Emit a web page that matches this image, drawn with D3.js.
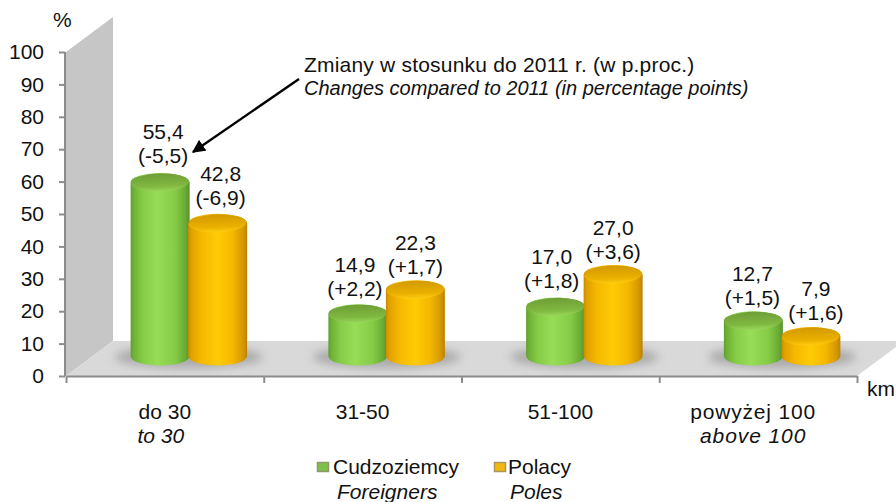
<!DOCTYPE html>
<html><head><meta charset="utf-8">
<script src="https://cdn.jsdelivr.net/npm/d3@7"></script>
<style>html,body{margin:0;padding:0;background:#fff}svg{display:block}text{font-family:"Liberation Sans",Arial,sans-serif;fill:#111}</style>
</head><body><div id="c"></div>
<script>
const categoriesPl = ["do 30","31-50","51-100","powyżej 100"];
const categoriesEn = ["to 30","","","above 100"];
const seriesNames = ["Cudzoziemcy","Polacy"];
const seriesNamesEn = ["Foreigners","Poles"];
const foreigners = [55.4,14.9,17.0,12.7];
const poles = [42.8,22.3,27.0,7.9];
const foreignersChange = ["(-5,5)","(+2,2)","(+1,8)","(+1,5)"];
const polesChange = ["(-6,9)","(+1,7)","(+3,6)","(+1,6)"];
const yTicks = [0,10,20,30,40,50,60,70,80,90,100];

const W=896,H=502;
const x0=66,x1=857,yB=376,yT=52,dx=47,dy=35;
const svg=d3.select("#c").append("svg").attr("width",W).attr("height",H);
const y=d3.scaleLinear().domain([0,100]).range([yB,yT]);
const x=d3.scaleBand().domain(categoriesPl).range([x0,x1]);
const xEdge=d3.scaleLinear().domain([0,4]).range([x0,x1]);
const inner=d3.scaleBand().domain([0,1]).range([-57.5,57.5]);
const FS=21;
const defs=svg.append("defs");
function grad(id,stops){const g=defs.append("linearGradient").attr("id",id);
 stops.forEach(s=>g.append("stop").attr("offset",s[0]).attr("stop-color",s[1]));}
grad("gG",[[0,"#5f9e2e"],[.05,"#6fb036"],[.2,"#86cc46"],[.45,"#98dc58"],[.75,"#86cc46"],[.93,"#69aa34"],[1,"#55902a"]]);
grad("gO",[[0,"#c98a00"],[.05,"#e0a000"],[.22,"#f5b800"],[.5,"#ffcb05"],[.75,"#f4b800"],[.93,"#d69800"],[1,"#bd8200"]]);
const tg=defs.append("linearGradient").attr("id","tG").attr("x1",0).attr("y1",0).attr("x2",0).attr("y2",1);
tg.append("stop").attr("offset",0).attr("stop-color","#6e9e38");tg.append("stop").attr("offset",.7).attr("stop-color","#80b840");tg.append("stop").attr("offset",1).attr("stop-color","#9ad65c");
const to=defs.append("linearGradient").attr("id","tO").attr("x1",0).attr("y1",0).attr("x2",0).attr("y2",1);
to.append("stop").attr("offset",0).attr("stop-color","#d29a00");to.append("stop").attr("offset",.7).attr("stop-color","#eab000");to.append("stop").attr("offset",1).attr("stop-color","#ffcc10");
defs.append("filter").attr("id","bl").attr("x","-30%").attr("y","-60%").attr("width","160%").attr("height","220%").append("feGaussianBlur").attr("stdDeviation",5);

const pts=a=>a.map(p=>p.join(",")).join(" ");
svg.append("polygon").attr("points",pts([[x0,yT],[x0+dx,yT-dy],[x0+dx,yB-dy],[x0,yB]])).attr("fill","#c6c6c6");
svg.append("polygon").attr("points",pts([[x0,yB],[x0+dx,yB-dy],[x1+dx,yB-dy],[x1,yB]])).attr("fill","#d9d9d9");

function styleAxis(g){g.selectAll("path,line").attr("stroke","#8c8c8c").attr("stroke-width",2);g.selectAll("text").style("font-size",FS+"px").attr("fill","#111");}
svg.append("g").attr("transform",`translate(${x0-1},0)`).call(d3.axisLeft(y).tickValues(yTicks).tickSize(6).tickSizeOuter(0).tickPadding(15)).call(styleAxis).call(g=>g.select(".domain").attr("d",`M0,${yT}V${yB}`));
svg.append("g").attr("transform",`translate(0,${yB})`).call(d3.axisBottom(xEdge).ticks(4).tickSize(7).tickSizeOuter(0).tickFormat("")).call(styleAxis);

const rx=29.5,ry=9.5,base=356,topLift=14;
const barOffset=24;
const labelNudgeX=[[3,-3,-4,-1],[3,0,0,5]];
const labelNudgeY=[[-3,-1,-2,1],[-1,1,1,1]];
const series=[{v:foreigners,c:foreignersChange,g:"gG",t:"tG",i:0},{v:poles,c:polesChange,g:"gO",t:"tO",i:1}];
const cx=(cat,i)=>x(cat)+x.bandwidth()/2+barOffset+inner(i)+inner.bandwidth()/2;
categoriesPl.forEach(cat=>{
 svg.append("ellipse").attr("cx",x(cat)+x.bandwidth()/2+barOffset).attr("cy",base+1).attr("rx",74).attr("ry",11).attr("fill","#9a9a9a").attr("opacity",.75).attr("filter","url(#bl)");
});
categoriesPl.forEach((cat,k)=>{
 series.forEach(s=>{
  const c=cx(cat,s.i),top=y(s.v[k])-topLift;
  const g=svg.append("g");
  g.append("path").attr("d",`M${c-rx},${top}V${base}A${rx},${ry} 0 0 0 ${c+rx},${base}V${top}A${rx},${ry} 0 0 0 ${c-rx},${top}Z`).attr("fill",`url(#${s.g})`);
  g.append("ellipse").attr("cx",c).attr("cy",top).attr("rx",rx-.5).attr("ry",ry-.5).attr("fill",`url(#${s.t})`).attr("transform",`rotate(-2 ${c} ${top})`);
 });
});
const fmt=v=>v.toFixed(1).replace(".",",");
categoriesPl.forEach((cat,k)=>{
 series.forEach(s=>{
  const c=cx(cat,s.i)+labelNudgeX[s.i][k],top=y(s.v[k])-topLift+labelNudgeY[s.i][k];
  const t=svg.append("g").attr("text-anchor","middle").style("font-size",FS+"px");
  t.append("text").attr("x",c).attr("y",top-41).text(fmt(s.v[k]));
  t.append("text").attr("x",c).attr("y",top-17).text(s.c[k]);
 });
});
categoriesPl.forEach((cat,k)=>{
 const c=x(cat)+x.bandwidth()/2;
 svg.append("text").attr("x",k===3?c-5:c).attr("y",419).attr("text-anchor","middle").style("font-size",FS+"px").style("letter-spacing",k===3?"0.8px":null).text(cat);
 if(categoriesEn[k])svg.append("text").attr("x",k===0?c-4:c-5).attr("y",443).attr("text-anchor","middle").style("font-size",FS+"px").style("font-style","italic").style("letter-spacing",k===3?"0.9px":null).text(categoriesEn[k]);
});
svg.append("text").attr("x",53).attr("y",27).style("font-size",FS+"px").text("%");
svg.append("text").attr("x",867).attr("y",396).style("font-size",FS+"px").text("km");
svg.append("text").attr("x",304).attr("y",72).style("font-size",FS+"px").style("letter-spacing","0.2px").text("Zmiany w stosunku do 2011 r. (w p.proc.)");
svg.append("text").attr("x",304).attr("y",95).style("font-size","20px").style("font-style","italic").text("Changes compared to 2011 (in percentage points)");
defs.append("marker").attr("id","ah").attr("viewBox","0 0 10 10").attr("refX",9).attr("refY",5).attr("markerWidth",5.5).attr("markerHeight",5.5).attr("orient","auto").append("path").attr("d","M0,0L10,5L0,10Z").attr("fill","#000");
svg.append("line").attr("x1",299).attr("y1",79).attr("x2",193).attr("y2",152).attr("stroke","#000").attr("stroke-width",2.4).attr("marker-end","url(#ah)");
const lg=[{x:317,g:"#7fbf4a",b:"#8a9a6a",tx:333,ex:337},{x:494,g:"#f0b810",b:"#a89860",tx:508,ex:510}];
lg.forEach((l,i)=>{
 svg.append("rect").attr("x",l.x+.5).attr("y",462.5).attr("width",11).attr("height",9).attr("fill",l.g).attr("stroke",l.b).attr("stroke-width",1.5);
 svg.append("text").attr("x",l.tx).attr("y",474).style("font-size",FS+"px").text(seriesNames[i]);
 svg.append("text").attr("x",l.ex).attr("y",499).style("font-size",FS+"px").style("font-style","italic").text(seriesNamesEn[i]);
});
</script></body></html>
